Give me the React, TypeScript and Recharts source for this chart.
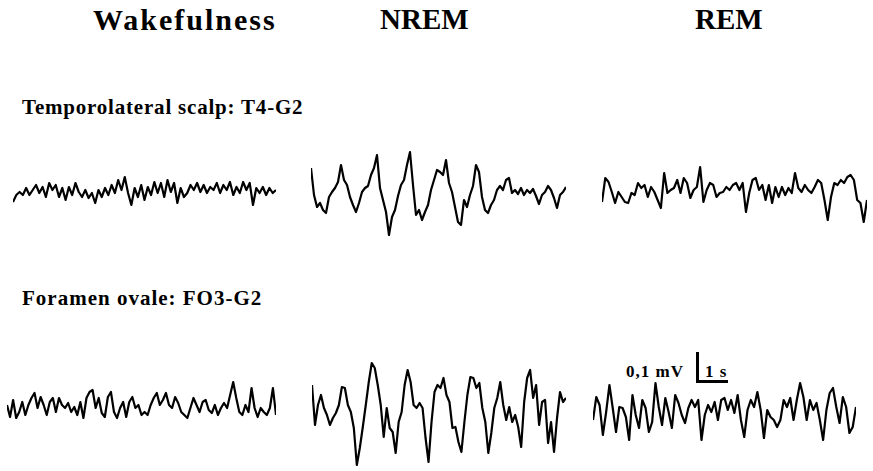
import React from 'react';
import { LineChart, Line, XAxis, YAxis } from 'recharts';

// amplitude samples (arbitrary units, up = positive)
const wakeScalp = [
  -10, -3, 0, -3, 4, -3, 2, 7, -1, 5, -5, 9, 2, 7, -5, 4, -8, 5, -3, 9, 0, -5, 2, -6, -1, -11, 2, -5, 4, -3, 7,
  -1, 12, 2, 15, -1, -13, 4, -5, 7, -8, 5, -3, 10, -1, 9, -5, 12, 0, 9, -11, 4, -5, -1, 7, 2, 9, 0, 7, -1, 5, 2,
  9, -1, 7, 2, 10, -3, 5, -1, 10, 2, 9, -13, 4, -1, 5, -3, 4, -1, 2,
];
const nremScalp = [
  22, -5, -17, -13, -20, -23, -7, -2, 2, 8, 25, 10, 5, -7, -15, -22, -13, -2, 2, 4, 15, 22, 35, 2, -10, -22, -45,
  -27, -20, -6, 5, 10, 25, 38, 5, -25, -20, -30, -22, -15, 0, 10, 20, 18, 15, 30, 7, -2, -17, -32, -35, -10, -17,
  -5, 4, 25, 18, -7, -20, -23, -15, -10, 0, 4, 0, 10, 12, -3, 0, -4, 2, -5, 0, -3, 1, -6, -14, -5, -2, 4, 0, -8,
  -18, -5, -2, 3,
];
const remScalp = [
  -12, 12, 8, -2, -13, -2, -7, -12, -13, -3, -5, 7, 2, 5, -7, 3, -2, -10, -18, 17, -3, 0, 2, 10, -3, 12, 7, -8, 0,
  3, 23, -12, 0, 7, 5, -7, -3, -2, 3, 0, 5, 7, 0, 7, -22, -3, 10, 12, 0, 5, -10, 5, -13, 3, -7, 3, -5, 2, -3, 17,
  2, -2, 5, 0, -3, 3, 10, 7, -10, -30, -7, 7, 5, 10, 7, 13, 15, 10, -10, -13, -32, -10,
];
const wakeFo = [
  0, -12, 5, -13, -7, 3, -10, 0, 7, 12, -3, 8, 0, -10, 3, 7, -7, 7, 0, -3, 2, -7, -2, -10, 3, -13, 7, 13, 15, -3,
  7, -8, -12, 8, 13, -7, -13, -3, 3, -12, 3, 8, -3, 0, -10, -7, -10, 0, 7, 12, 0, 5, 12, 0, -3, 8, 2, -7, -10,
  -13, -3, 7, 0, -7, 3, 5, -5, -8, 0, -10, -3, 2, -3, 10, 23, 7, -7, -10, 0, -7, 17, -3, -12, -3, -7, -10, -3, 17,
  -10,
];
const nremFo = [
  25, -15, 5, 15, 2, -5, -15, -8, -3, 5, 23, 22, 5, -2, -18, -55, -38, -17, 5, 28, 47, 42, 25, 5, -27, 2, -18, -22,
  -43, -12, -2, 25, 40, 28, 5, 2, 7, 2, -28, -52, -12, 18, 25, 22, 32, 15, 8, -18, -17, -32, -42, -12, 15, 33, 32,
  22, 27, 2, -12, -43, -23, 2, 12, 28, 5, -10, 3, -12, -5, -17, -37, 8, 32, 40, 12, 25, -15, 8, 10, -33, -12, -42,
  -8, 18, 8, 12,
];
const remFo = [
  -10, 13, 5, -25, -2, 25, 2, -22, 3, 2, -7, -30, 15, -5, -18, 10, 2, -22, -12, 27, 3, -15, 12, -2, -18, 15, 7, -5,
  -13, 2, 10, 3, 10, -30, -5, 5, -2, 8, -10, 10, 12, 0, 10, -3, 15, -10, -27, 0, 10, 3, 18, 0, -28, 0, -7, -10,
  -17, -10, 10, 3, 12, -10, 10, 27, 13, -10, 10, 0, 7, -10, -30, 0, 17, 22, 3, -13, 13, 3, -23, -17, 3,
];

const toRows = (vals: number[]) => vals.map((v, i) => ({ i, v }));

const serif = '"Liberation Serif", "Times New Roman", serif';

const Trace = ({ data, left, right, mid }: { data: number[]; left: number; right: number; mid: number }) => (
  <div style={{ position: 'absolute', left, top: mid - 60 }}>
    <LineChart width={right - left} height={120} data={toRows(data)} margin={{ top: 0, right: 0, bottom: 0, left: 0 }}>
      <XAxis dataKey="i" hide />
      <YAxis domain={[-60, 60]} hide />
      <Line
        type="linear"
        dataKey="v"
        stroke="#000"
        strokeWidth={2.2}
        strokeLinejoin="round"
        dot={false}
        isAnimationActive={false}
      />
    </LineChart>
  </div>
);

const label = (text: string, left: number, top: number, size: number, spacing = 0) => (
  <div
    style={{
      position: 'absolute',
      left,
      top,
      fontFamily: serif,
      fontWeight: 'bold',
      fontSize: size,
      letterSpacing: spacing,
      lineHeight: 1,
      whiteSpace: 'nowrap',
      color: '#000',
    }}
  >
    {text}
  </div>
);

export default function App() {
  return (
    <div style={{ position: 'absolute', left: 0, top: 0, width: 873, height: 471, background: '#fff', overflow: 'hidden' }}>
      {label('Wakefulness', 93, 5, 30, 2)}
      {label('NREM', 380, 5, 29)}
      {label('REM', 695, 5, 29)}
      {label('Temporolateral scalp: T4-G2', 22, 97, 21, 0.8)}
      {label('Foramen ovale: FO3-G2', 22, 288, 21, 1)}

      <Trace data={wakeScalp} left={13} right={276} mid={192} />
      <Trace data={nremScalp} left={311} right={566} mid={190} />
      <Trace data={remScalp} left={602} right={867} mid={190} />
      <Trace data={wakeFo} left={7} right={276} mid={405} />
      <Trace data={nremFo} left={312} right={566} mid={410} />
      <Trace data={remFo} left={593} right={856} mid={410} />

      {/* calibration bar */}
      <div style={{ position: 'absolute', left: 696, top: 352, width: 3, height: 31, background: '#000' }} />
      <div style={{ position: 'absolute', left: 696, top: 380, width: 32, height: 3, background: '#000' }} />
      {label('0,1 mV', 626, 363, 17, 1)}
      {label('1 s', 705, 363, 17, 1)}
    </div>
  );
}
